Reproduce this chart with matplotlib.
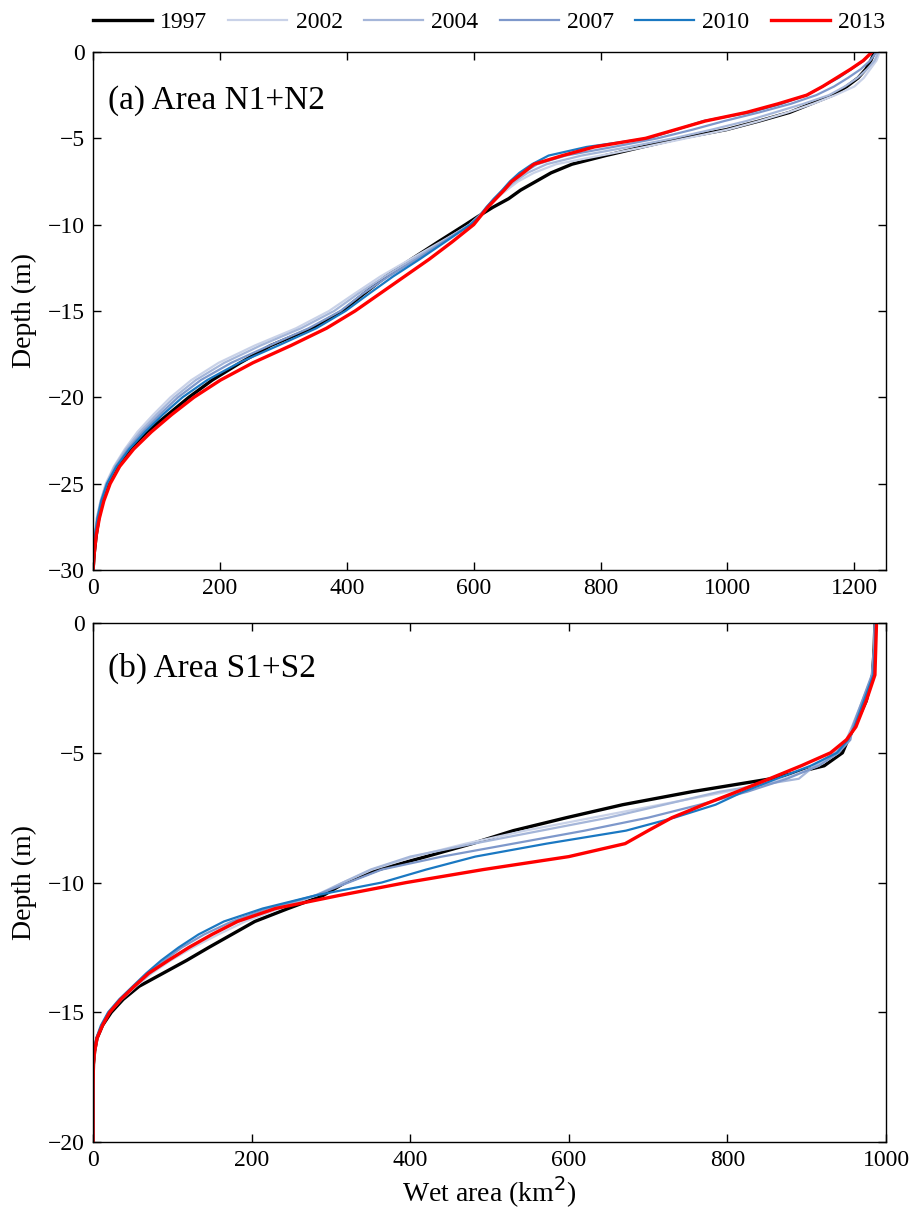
import matplotlib
matplotlib.use('Agg')
import matplotlib.pyplot as plt

plt.rcParams['font.family'] = ['Liberation Serif', 'DejaVu Serif']
plt.rcParams['axes.unicode_minus'] = True

years = ['1997', '2002', '2004', '2007', '2010', '2013']
colors = ['#000000', '#c9d2e8', '#a5b6d9', '#7e98cb', '#1a78c2', '#ff0000']
widths = [2.4, 1.6, 1.6, 1.6, 1.6, 2.4]

# (a) Area N1+N2 -- depth levels (m) and wet area (km2) per year
depth_a = [0, -0.5, -1, -1.5, -2, -2.5, -3, -3.5, -4, -4.5, -5, -5.5, -6, -6.5, -7, -7.5,
           -8, -8.5, -9, -9.5, -10, -11, -12, -13, -14, -15, -16, -17, -18, -19, -20,
           -21, -22, -23, -24, -25, -26, -27, -28, -29, -30]
area_a_1997 = [1232, 1226, 1218, 1206, 1188, 1166, 1132, 1098, 1050, 998, 925, 866, 808, 755, 722, 698,
               674, 655, 630, 608, 587, 544, 502, 462, 427, 393, 345, 280, 232, 188, 151,
               118, 85, 58, 38, 25, 15, 9, 5, 2, 0]
area_a_2002 = [1240, 1235, 1225, 1215, 1200, 1170, 1135, 1095, 1050, 1000, 935, 870, 800, 730, 695, 670,
               652, 635, 622, 610, 595, 548, 500, 453, 412, 372, 320, 255, 198, 155, 122,
               95, 70, 50, 33, 20, 12, 6, 3, 1, 0]
area_a_2004 = [1238, 1232, 1220, 1205, 1185, 1160, 1120, 1075, 1030, 975, 915, 845, 770, 715, 685, 665,
               648, 632, 620, 608, 593, 550, 505, 460, 418, 380, 328, 264, 207, 162, 128,
               100, 74, 52, 34, 21, 12, 6, 3, 1, 0]
area_a_2007 = [1235, 1225, 1210, 1190, 1168, 1140, 1100, 1050, 995, 945, 890, 820, 745, 700, 678, 660,
               646, 632, 620, 609, 594, 552, 510, 466, 425, 390, 340, 278, 218, 170, 134,
               105, 78, 55, 36, 22, 13, 7, 3, 1, 0]
area_a_2010 = [1228, 1215, 1195, 1175, 1150, 1125, 1085, 1035, 962, 920, 875, 778, 718, 692, 672, 657,
               645, 632, 620, 610, 595, 555, 515, 473, 435, 398, 352, 292, 230, 180, 141,
               110, 82, 57, 37, 22, 13, 7, 3, 1, 0]
area_a_2013 = [1228, 1214, 1194, 1172, 1150, 1125, 1080, 1030, 965, 918, 871, 790, 740, 695, 678, 660,
               648, 635, 622, 611, 600, 566, 530, 491, 452, 413, 368, 312, 252, 201, 159,
               124, 92, 64, 42, 27, 17, 10, 5, 2, 0]

# (b) Area S1+S2
depth_b = [0, -1, -2, -3, -4, -4.5, -5, -5.5, -6, -6.5, -7, -7.5, -8, -8.5, -9, -9.5, -10,
           -10.5, -11, -11.5, -12, -12.5, -13, -13.5, -14, -14.5, -15, -15.5, -16, -16.5,
           -17, -18, -19, -20]
area_b_1997 = [986, 985, 983, 975, 960, 952, 945, 922, 855, 755, 668, 597, 530, 478, 420, 360, 318,
               290, 246, 204, 175, 146, 118, 88, 58, 38, 23, 12, 5, 2, 0.5, 0, 0, 0]
area_b_2002 = [986, 985, 983, 972, 958, 952, 940, 915, 870, 800, 715, 630, 545, 470, 405, 352, 315,
               280, 235, 192, 158, 126, 98, 74, 54, 36, 21, 11, 5, 2, 0.5, 0, 0, 0]
area_b_2004 = [986, 985, 983, 970, 957, 950, 935, 910, 890, 790, 720, 650, 565, 480, 400, 350, 315,
               282, 228, 184, 150, 120, 94, 72, 53, 35, 20, 11, 5, 2, 0.5, 0, 0, 0]
area_b_2007 = [986, 985, 982, 970, 958, 955, 940, 915, 875, 825, 765, 700, 620, 530, 440, 364, 322,
               280, 220, 175, 140, 112, 90, 70, 52, 35, 20, 11, 5, 2, 0.5, 0, 0, 0]
area_b_2010 = [987, 986, 984, 972, 960, 952, 938, 905, 862, 820, 785, 733, 672, 572, 482, 420, 364,
               280, 214, 165, 133, 108, 86, 67, 50, 33, 19, 10, 4, 1.5, 0.5, 0, 0, 0]
area_b_2013 = [988, 987, 986, 975, 962, 950, 930, 893, 853, 812, 770, 730, 700, 671, 600, 492, 395,
               310, 230, 182, 150, 121, 95, 70, 52, 35, 21, 12, 5, 2, 0.5, 0, 0, 0]

areas_a = [area_a_1997, area_a_2002, area_a_2004, area_a_2007, area_a_2010, area_a_2013]
areas_b = [area_b_1997, area_b_2002, area_b_2004, area_b_2007, area_b_2010, area_b_2013]

fig = plt.figure(figsize=(9.14, 12.2), dpi=100)
ax1 = fig.add_axes([0.1018, 0.5328, 0.8676, 0.4246])
ax2 = fig.add_axes([0.1018, 0.0639, 0.8676, 0.4254])

for ax, depth, areas in [(ax1, depth_a, areas_a), (ax2, depth_b, areas_b)]:
    for yr, c, lw, a in zip(years, colors, widths, areas):
        ax.plot(a, depth, color=c, lw=lw, label=yr)

ax1.set_xlim(0, 1250)
ax1.set_ylim(-30, 0)
ax1.set_xticks([0, 200, 400, 600, 800, 1000, 1200])
ax1.set_yticks([-30, -25, -20, -15, -10, -5, 0])
ax2.set_xlim(0, 1000)
ax2.set_ylim(-20, 0)
ax2.set_xticks([0, 200, 400, 600, 800, 1000])
ax2.set_yticks([-20, -15, -10, -5, 0])

for ax in (ax1, ax2):
    ax.tick_params(direction='in', top=True, right=True, length=6, width=1.0,
                   labelsize=17, pad=6)
    for s in ax.spines.values():
        s.set_linewidth(1.0)
    ax.set_ylabel('Depth (m)', fontsize=20, labelpad=8)

ax1.text(0.019, 0.907, '(a) Area N1+N2', transform=ax1.transAxes, fontsize=24,
         ha='left', va='center')
ax2.text(0.019, 0.913, '(b) Area S1+S2', transform=ax2.transAxes, fontsize=24,
         ha='left', va='center')
ax2.set_xlabel('Wet area (km$^2$)', fontsize=20, labelpad=2)

handles, labels = ax1.get_legend_handles_labels()
fig.legend(handles, labels, loc='upper center', bbox_to_anchor=(0.535, 1.008), ncol=6,
           frameon=False, fontsize=17, handlelength=2.5, handletextpad=0.35,
           columnspacing=0.9)

fig.savefig('out.png', dpi=100)
